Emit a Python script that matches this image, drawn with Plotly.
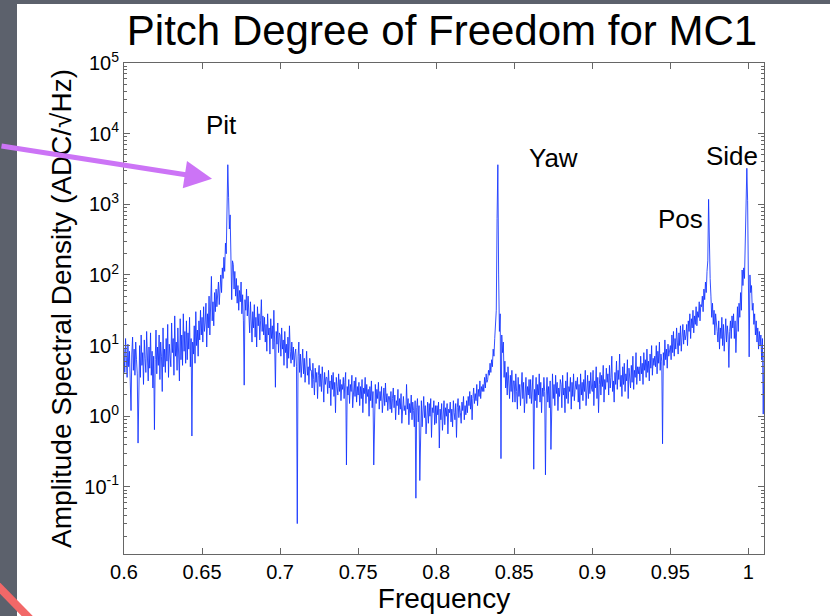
import numpy as np
import plotly.graph_objects as go

# log10 of the amplitude spectral density, one reading every 0.0005 starting at 0.600
# (each row covers 0.01 in frequency)
asd_pit_region = [
    0.95, 0.62, 1.10, 0.78, 0.55, 1.02, 0.70, 0.92, 0.48, 0.08, 0.88, 1.12, 0.65, 0.95, 0.58, 1.05, 0.80, 0.60, -0.38, 0.85,
    1.00, 0.55, 1.15, 0.72, 0.90, 0.45, 1.08, 0.82, 0.62, 1.20, 0.75, 0.50, 0.98, 0.68, 1.18, 0.58, 0.92, 0.40, 0.85, -0.19,
    0.80, 1.22, 0.60, 0.98, 0.72, 1.15, 0.52, 1.05, 0.85, 0.35, 1.25, 0.70, 0.95, 0.62, 1.10, 0.78, 1.30, 0.55, 1.02, 0.88,
    0.70, 1.32, 0.90, 1.10, 0.58, 1.42, 0.85, 1.05, 0.65, 1.25, 0.95, 0.50, 1.38, 0.80, 1.15, 0.72, 1.45, 0.92, 1.20, 0.75,
    1.35, 0.80, 1.18, 0.95, 1.40, 0.70, 1.10, -0.28, 1.05, 0.88, 1.28, 0.75, 1.48, 1.00, 1.22, 0.85, 1.35, 1.08, 1.50, 1.15,
    1.40, 1.05, 1.55, 1.20, 1.32, 1.60, 0.98, 1.45, 1.25, 1.70, 1.15, 1.50, 1.98, 1.35, 1.62, 1.28, 1.75, 1.48, 1.80, 1.55,
    1.70, 1.90, 1.58, 1.85, 2.00, 1.75, 2.10, 1.95, 2.25, 2.05, 2.45, 2.30, 2.95, 3.56, 3.10, 2.65, 2.85, 2.40, 1.65, 2.20,
    2.15, 1.80, 2.05, 1.70, 1.95, 1.60, 1.85, 1.50, 1.78, 1.62, 1.90, 1.45, 1.72, 1.35, 0.44, 1.65, 1.50, 1.80, 1.42, 1.70,
    1.50, 1.18, 1.62, 1.30, 1.05, 1.48, 1.25, 1.58, 1.12, 1.40, 0.98, 1.55, 1.28, 1.45, 1.08, 1.35, 1.65, 1.20, 1.42, 1.15,
    1.40, 1.05, 1.30, 0.92, 1.45, 1.15, 1.25, 0.88, 1.38, 1.10, 1.28, 0.95, 1.50, 1.05, 0.41, 1.20, 1.02, 1.32, 0.90, 1.18,
    1.15, 0.85, 1.25, 0.95, 1.08, 0.72, 1.20, 0.90, 1.02, 0.68, 1.12, 0.82, 1.28, 0.92, 0.75, 1.05, 0.80, 0.98, 0.70, 0.88,
]
asd_mid_region = [
    0.95, 0.70, -1.52, 0.85, 1.05, 0.62, 0.88, 0.55, 0.78, 0.95, 0.60, 0.82, 0.48, 0.75, 0.92, 0.58, 0.70, 0.45, 0.82, 0.65,
    0.65, 0.40, 0.75, 0.52, 0.30, 0.68, 0.48, 0.62, 0.25, 0.58, 0.72, 0.42, 0.60, 0.35, 0.70, 0.50, 0.20, 0.62, 0.45, 0.55,
    0.55, 0.32, 0.65, 0.40, 0.50, 0.15, 0.58, 0.38, 0.62, 0.28, 0.48, 0.05, 0.55, 0.42, 0.30, 0.60, 0.35, 0.52, 0.22, 0.45,
    0.38, 0.55, 0.25, 0.48, 0.62, -0.69, 0.42, 0.30, 0.52, 0.18, 0.45, 0.35, 0.58, 0.12, 0.40, 0.50, 0.28, 0.55, 0.20, 0.42,
    0.30, 0.48, 0.15, 0.42, 0.25, 0.52, 0.05, 0.40, 0.32, 0.55, 0.18, 0.45, 0.28, 0.38, 0.00, 0.42, 0.22, 0.50, 0.12, 0.35,
    -0.69, 0.30, 0.45, 0.18, 0.38, 0.25, 0.48, 0.10, 0.35, 0.22, 0.42, 0.05, 0.30, 0.40, 0.15, 0.47, 0.20, 0.32, 0.08, 0.28,
    0.28, 0.10, 0.35, 0.05, 0.25, 0.40, 0.12, 0.30, -0.05, 0.22, 0.15, 0.38, 0.02, 0.25, 0.10, 0.32, -0.10, 0.20, 0.28, 0.08,
    0.15, 0.02, 0.45, 0.10, 0.25, -0.12, 0.18, 0.05, 0.30, -0.05, 0.20, 0.08, -0.15, 0.22, -1.16, 0.12, 0.25, -0.08, 0.15, -0.91,
    0.05, 0.22, -0.15, 0.10, 0.28, -0.02, 0.15, -0.25, 0.08, 0.20, -0.10, 0.18, 0.00, 0.25, -0.30, 0.12, 0.05, 0.22, -0.12, 0.15,
    -0.10, 0.15, 0.02, 0.20, -0.45, 0.10, -0.05, 0.18, -0.20, 0.08, 0.22, -0.12, 0.12, 0.00, 0.18, -0.25, 0.10, 0.05, 0.20, -0.08,
    0.10, -0.15, 0.22, 0.05, -0.05, 0.18, -0.30, 0.12, 0.25, -0.02, 0.15, 0.05, -0.10, 0.20, 0.08, 0.28, -0.05, 0.15, 0.02, 0.22,
    0.05, 0.28, 0.15, 0.35, 0.10, 0.30, -0.05, 0.25, 0.40, 0.18, 0.32, 0.22, 0.45, 0.15, 0.38, 0.28, 0.50, 0.25, 0.42, 0.35,
]
asd_yaw_region = [
    0.45, 0.35, 0.55, 0.40, 0.60, 0.48, 0.52, 0.65, 0.58, 0.75, 0.62, 0.80, 0.70, 0.95, 0.85, 1.10, 1.25, 1.50, 2.80, 3.56,
    2.00, 1.20, 1.45, -0.60, 1.15, 0.90, 1.05, 0.55, 0.78, 0.40, 0.62, 0.30, 0.70, 0.45, 0.25, 0.58, 0.35, 0.65, 0.20, 0.50,
    0.50, 0.20, 0.60, 0.35, 0.10, 0.55, 0.28, 0.45, 0.15, 0.40, 0.62, 0.25, 0.48, 0.05, 0.38, 0.55, 0.18, 0.42, 0.30, 0.52,
    0.25, 0.52, 0.18, 0.40, 0.58, -0.75, 0.38, 0.22, 0.55, 0.12, 0.45, 0.30, 0.60, 0.20, 0.48, 0.05, 0.40, 0.28, 0.55, 0.35,
    -0.83, 0.30, 0.55, 0.20, 0.42, 0.12, 0.50, -0.47, 0.38, 0.60, 0.25, 0.45, 0.15, 0.58, 0.32, 0.48, 0.08, 0.40, 0.28, 0.52,
    0.45, 0.12, 0.58, 0.30, 0.40, 0.05, 0.50, 0.25, 0.62, 0.18, 0.42, 0.35, 0.55, 0.10, 0.48, 0.28, 0.60, 0.22, 0.38, 0.50,
    0.38, 0.55, 0.20, 0.45, 0.10, 0.60, 0.30, 0.48, 0.22, 0.52, 0.35, 0.65, 0.15, 0.42, 0.58, 0.25, 0.50, 0.32, 0.62, 0.40,
    0.35, 0.65, 0.15, 0.50, 0.40, 0.70, 0.25, 0.55, 0.05, 0.45, 0.62, 0.30, 0.58, 0.42, 0.72, 0.20, 0.52, 0.38, 0.68, 0.48,
    0.60, 0.30, 0.72, 0.40, 0.55, 0.85, 0.35, 0.50, 0.20, 0.62, 0.45, 0.78, 0.38, 0.65, 0.52, 0.88, 0.42, 0.58, 0.28, 0.70,
    0.45, 0.75, 0.35, 0.60, 0.50, 0.80, 0.25, 0.68, 0.55, 0.40, 0.72, 0.48, 0.85, 0.38, 0.65, 0.55, 0.90, 0.45, 0.70, 0.60,
    0.70, 0.50, 0.85, 0.60, 0.75, 0.45, 0.90, 0.65, 0.80, 0.55, 0.95, 0.62, 0.78, 0.50, 0.88, 0.68, 1.00, 0.58, 0.82, 0.72,
]
asd_side_region = [
    0.85, 0.70, 1.00, 0.60, 0.92, 0.75, 1.05, 0.65, 0.88, 0.78, -0.39, 0.90, 0.72, 1.08, 0.80, 0.95, 0.68, 1.02, 0.85, 0.95,
    1.00, 0.80, 1.15, 0.90, 1.20, 0.85, 1.10, 0.95, 1.25, 1.05, 0.88, 1.18, 1.00, 1.28, 0.92, 1.12, 1.30, 1.02, 1.22, 1.08,
    1.15, 1.30, 1.00, 1.35, 1.20, 1.45, 1.10, 1.38, 1.25, 1.50, 1.18, 1.42, 1.30, 1.55, 1.28, 1.48, 1.40, 1.62, 1.35, 1.58,
    1.55, 1.70, 1.48, 1.80, 1.65, 1.90, 1.75, 2.05, 2.20, 3.07, 2.15, 1.95, 1.70, 1.40, 1.60, 1.30, 1.50, 1.15, 1.45, 1.25,
    1.20, 1.05, 1.35, 0.95, 1.25, 1.10, 1.40, 1.00, 1.30, 0.92, 1.22, 1.38, 1.05, 1.28, 1.15, 0.69, 1.20, 1.35, 1.10, 1.42,
    1.25, 1.45, 1.10, 1.35, 0.90, 1.30, 1.55, 1.20, 1.60, 1.40, 1.75, 1.50, 2.07, 1.85, 2.10, 1.95, 2.40, 2.96, 3.51, 3.05,
    2.30, 0.84, 2.00, 1.75, 1.85, 1.50, 1.60, 1.30, 1.45, 1.15, 1.35, 1.05, 1.25, 0.95, 1.20, 1.00, 1.15, 0.80, 1.10, 0.03,
    0.90,
]
freq_start = 0.600
freq_step = 0.0005

peak_labels = ["Pit", "Yaw", "Pos", "Side"]
peak_label_freq = [0.6622, 0.8750, 0.9564, 0.9897]
peak_label_log = [4.12, 3.66, 2.79, 3.69]

x_tickvals = [0.6, 0.65, 0.7, 0.75, 0.8, 0.85, 0.9, 0.95, 1.0]
x_ticktext = ["0.6", "0.65", "0.7", "0.75", "0.8", "0.85", "0.9", "0.95", "1"]
y_decades = [-1, 0, 1, 2, 3, 4, 5]

asd_log = np.array(asd_pit_region + asd_mid_region + asd_yaw_region + asd_side_region)
freq = np.round(freq_start + freq_step * np.arange(len(asd_log)), 4)
asd = 10.0 ** asd_log

y_tickvals = [10.0 ** d for d in y_decades]
y_ticktext = ["10<sup>%d</sup>" % d for d in y_decades]
y_minor = [m * 10.0 ** d for d in range(-2, 5) for m in range(2, 10)]


# pixel helpers for the slide decorations (plot area 124..764 x 63..554)
def px(x):
    return (x - 124) / 640.0


def py(y):
    return (554 - y) / 491.0


fig = go.Figure()
fig.add_trace(go.Scatter(
    x=freq, y=asd, mode="lines",
    line=dict(color="#0f30ff", width=0.85),
    hoverinfo="skip"
))

for text, f, lg in zip(peak_labels, peak_label_freq, peak_label_log):
    fig.add_annotation(x=f, y=lg, text=text, showarrow=False,
                       font=dict(size=26, color="black"))

# purple arrow pointing at the Pit peak
fig.add_annotation(x=0.6564, y=3.36, ax=-215, ay=-33, text="",
                   showarrow=True, arrowhead=2, arrowsize=1.1,
                   arrowwidth=5, arrowcolor="#cc74f6")

fig.update_layout(
    width=830, height=616,
    margin=dict(l=124, r=66, t=63, b=62, autoexpand=False),
    paper_bgcolor="#5c616c",
    plot_bgcolor="white",
    showlegend=False,
    font=dict(family="Liberation Sans, Arial, sans-serif", color="black"),
    title=dict(text="Pitch Degree of Freedom for MC1", font=dict(size=42, color="black"),
               x=0.5325, xref="container", xanchor="center",
               y=0.951, yref="container", yanchor="middle"),
    shapes=[
        dict(type="rect", xref="paper", yref="paper", layer="below",
             x0=px(17), x1=px(840), y0=py(630), y1=py(4),
             fillcolor="white", line=dict(width=0)),
        dict(type="line", xref="paper", yref="paper", layer="above",
             x0=px(-5), y0=py(583), x1=px(35), y1=py(624),
             line=dict(color="#f26868", width=8)),
    ],
)

fig.update_xaxes(
    range=[0.6, 1.01], tickmode="array", tickvals=x_tickvals, ticktext=x_ticktext,
    ticks="inside", ticklen=6, tickcolor="#666", tickfont=dict(size=20),
    showline=True, linecolor="#666", linewidth=1, mirror="ticks",
    showgrid=False, zeroline=False, automargin=False,
    title=dict(text="Frequency", font=dict(size=28), standoff=6),
)
fig.update_yaxes(
    type="log", range=[-1.95, 5], tickmode="array", tickvals=y_tickvals, ticktext=y_ticktext,
    ticks="inside", ticklen=6, tickcolor="#666", tickfont=dict(size=20),
    minor=dict(tickmode="array", tickvals=y_minor, ticks="inside", ticklen=3,
               tickcolor="#666", showgrid=False),
    showline=True, linecolor="#666", linewidth=1, mirror="ticks",
    showgrid=False, zeroline=False, automargin=False,
    title=dict(text="Amplitude Spectral Density (ADC/√Hz)", font=dict(size=28), standoff=4),
)

# drop the page's default body margin so the figure sits at the window's corner
fig.write_html("out.html", config={"displayModeBar": False},
               post_script="document.body.style.margin='0';")
